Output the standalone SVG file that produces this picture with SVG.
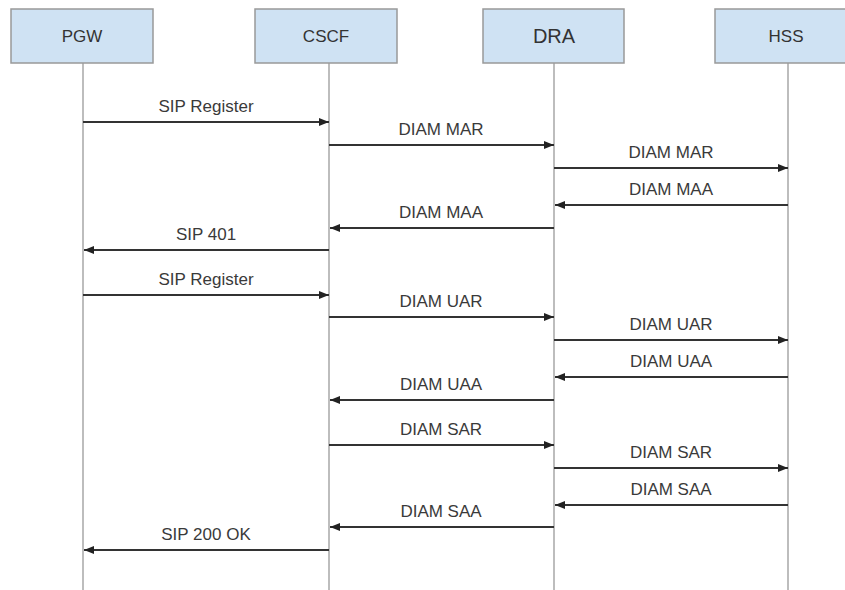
<svg xmlns="http://www.w3.org/2000/svg" width="845" height="590" viewBox="0 0 845 590">
<defs>
<style>
.box{fill:#cfe2f3;stroke:#999;stroke-width:1.5}
.life{stroke:#9a9a9a;stroke-width:1.3;fill:none}
.hd{font-family:"Liberation Sans",Arial,sans-serif;font-size:17px;fill:#333;text-anchor:middle}
.lb{font-family:"Liberation Sans",Arial,sans-serif;font-size:17px;fill:#3a3a3a;text-anchor:middle}
.msg{stroke:#333;stroke-width:2;fill:none;marker-end:url(#ah)}
</style>
<marker id="ah" viewBox="0 0 10 8" refX="10" refY="4" markerWidth="10" markerHeight="8" markerUnits="userSpaceOnUse" orient="auto">
<path d="M0,0 L10,4 L0,8 Z" fill="#222"/>
</marker>
</defs>
<rect width="845" height="590" fill="#fff"/>
<g id="PGW"><rect class="box" x="11" y="9" width="142" height="54"/><text class="hd" x="82" y="42">PGW</text><line class="life" x1="83" y1="63" x2="83" y2="590"/></g>
<g id="CSCF"><rect class="box" x="255" y="9" width="142" height="54"/><text class="hd" x="326" y="42">CSCF</text><line class="life" x1="329" y1="63" x2="329" y2="590"/></g>
<g id="DRA"><rect class="box" x="483" y="9" width="141" height="54"/><text class="hd" x="554" y="43" style="font-size:20px">DRA</text><line class="life" x1="554" y1="63" x2="554" y2="590"/></g>
<g id="HSS"><rect class="box" x="715" y="9" width="140" height="54"/><text class="hd" x="786" y="42">HSS</text><line class="life" x1="788" y1="63" x2="788" y2="590"/></g>
<g id="connectors">
<line class="msg" x1="83" y1="122" x2="329" y2="122"/><text class="lb" x="206" y="112">SIP Register</text>
<line class="msg" x1="329" y1="145" x2="554" y2="145"/><text class="lb" x="441" y="135">DIAM MAR</text>
<line class="msg" x1="554" y1="168" x2="788" y2="168"/><text class="lb" x="671" y="158">DIAM MAR</text>
<line class="msg" x1="788" y1="205" x2="555" y2="205"/><text class="lb" x="671" y="195">DIAM MAA</text>
<line class="msg" x1="554" y1="228" x2="330" y2="228"/><text class="lb" x="441" y="218">DIAM MAA</text>
<line class="msg" x1="329" y1="250" x2="84" y2="250"/><text class="lb" x="206" y="240">SIP 401</text>
<line class="msg" x1="83" y1="295" x2="329" y2="295"/><text class="lb" x="206" y="285">SIP Register</text>
<line class="msg" x1="329" y1="317" x2="554" y2="317"/><text class="lb" x="441" y="307">DIAM UAR</text>
<line class="msg" x1="554" y1="340" x2="788" y2="340"/><text class="lb" x="671" y="330">DIAM UAR</text>
<line class="msg" x1="788" y1="377" x2="555" y2="377"/><text class="lb" x="671" y="367">DIAM UAA</text>
<line class="msg" x1="554" y1="400" x2="330" y2="400"/><text class="lb" x="441" y="390">DIAM UAA</text>
<line class="msg" x1="329" y1="445" x2="554" y2="445"/><text class="lb" x="441" y="435">DIAM SAR</text>
<line class="msg" x1="554" y1="468" x2="788" y2="468"/><text class="lb" x="671" y="458">DIAM SAR</text>
<line class="msg" x1="788" y1="505" x2="555" y2="505"/><text class="lb" x="671" y="495">DIAM SAA</text>
<line class="msg" x1="554" y1="527" x2="330" y2="527"/><text class="lb" x="441" y="517">DIAM SAA</text>
<line class="msg" x1="329" y1="550" x2="84" y2="550"/><text class="lb" x="206" y="540">SIP 200 OK</text>
</g>
</svg>
